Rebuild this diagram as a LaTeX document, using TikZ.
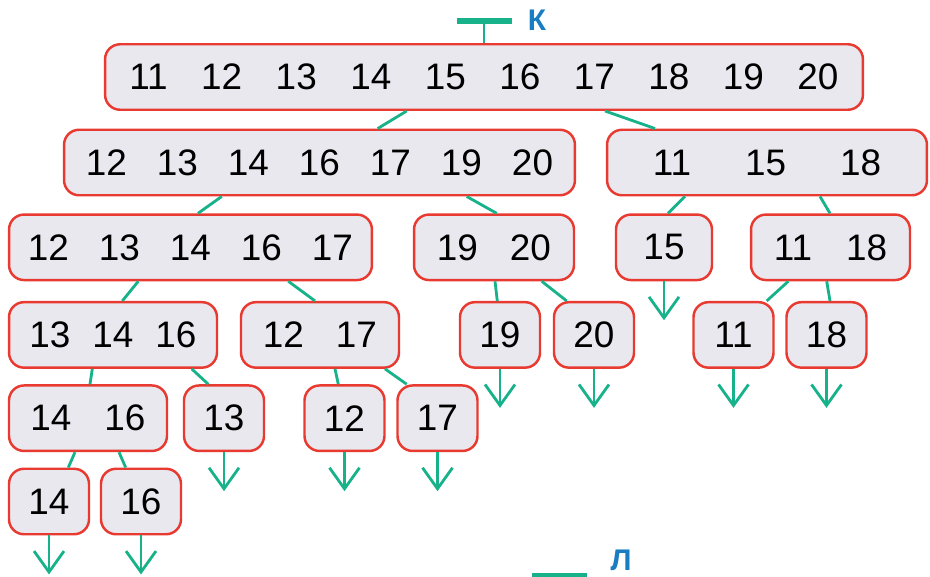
\documentclass[tikz,border=0pt]{standalone}
\usepackage{fontspec}
\setmainfont{Liberation Sans}
\usetikzlibrary{arrows.meta}

\definecolor{boxred}{HTML}{E83A30}
\definecolor{boxfill}{HTML}{E9E8EF}
\definecolor{linkgreen}{HTML}{17B28A}
\definecolor{keyblue}{HTML}{1A7DC2}

\newcommand{\numgap}[1][0.64cm]{\hspace{#1}}

\begin{document}
\begin{tikzpicture}[
    x=0.02cm, y=-0.02cm,
    setbox/.style={rectangle, rounded corners=0.3cm, draw=boxred, fill=boxfill, line width=1.4pt, minimum height=1.31cm, inner sep=0pt, font=\fontsize{21}{25}\selectfont},
    link/.style={draw=linkgreen, line width=1.6pt},
    leaf/.style={link, -{Straight Barb[length=0.42cm, width=0.6cm]}},
    keybar/.style={draw=linkgreen, line width=3.2pt},
    keylabel/.style={text=keyblue, font=\fontsize{17}{19}\selectfont\bfseries, inner sep=0pt}
]

\clip (0,0) rectangle (930,576);

% Ключи
\coordinate (k) at (484,21);
\draw[keybar] ([xshift=-0.54cm]k) -- ([xshift=0.56cm]k);
\node[keylabel] (klabel) at (537,20) {К};
\coordinate (l) at (560,575.5);
\draw[keybar] ([xshift=-0.56cm]l) -- ([xshift=0.54cm]l);
\node[keylabel] (llabel) at (621,560) {Л};

% Уровни
\node[setbox, minimum width=15.16cm] (all) at (484,77) {11\numgap[0.67cm]12\numgap[0.67cm]13\numgap[0.67cm]14\numgap[0.67cm]15\numgap[0.67cm]16\numgap[0.67cm]17\numgap[0.67cm]18\numgap[0.67cm]19\numgap[0.67cm]20};

\node[setbox, minimum width=10.22cm] (a) at (319.5,162.5) {12\numgap[0.6cm]13\numgap[0.6cm]14\numgap[0.6cm]16\numgap[0.6cm]17\numgap[0.6cm]19\numgap[0.6cm]20};
\node[setbox, minimum width=6.4cm] (b) at (767,162.5) {11\numgap[1.08cm]15\numgap[1.08cm]18};

\node[setbox, minimum width=7.26cm] (c) at (190.5,247.3) {12\numgap[0.6cm]13\numgap[0.6cm]14\numgap[0.6cm]16\numgap[0.6cm]17};
\node[setbox, minimum width=3.2cm] (d) at (494,247.3) {19\numgap 20};
\node[setbox, minimum width=1.92cm] (e) at (664,247.3) {15};
\node[setbox, minimum width=3.18cm] (f) at (830.5,247.3) {11\numgap[0.68cm]18};

\node[setbox, minimum width=4.16cm] (g) at (113,334.9) {13\numgap[0.44cm]14\numgap[0.44cm]16};
\node[setbox, minimum width=3.16cm] (h) at (320,334.9) {12\numgap 17};
\node[setbox, minimum width=1.6cm] (i) at (500,334.9) {19};
\node[setbox, minimum width=1.6cm] (j) at (594,334.9) {20};
\node[setbox, minimum width=1.6cm] (kk) at (733.5,334.9) {11};
\node[setbox, minimum width=1.6cm] (ll) at (826.5,334.9) {18};

\node[setbox, minimum width=3.16cm] (m) at (88,418.2) {14\numgap[0.66cm]16};
\node[setbox, minimum width=1.6cm] (n) at (224,418.2) {13};
\node[setbox, minimum width=1.6cm] (o) at (344.5,418.2) {12};
\node[setbox, minimum width=1.6cm] (p) at (437.5,418.2) {17};

\node[setbox, minimum width=1.6cm] (q) at (49,501.5) {14};
\node[setbox, minimum width=1.6cm] (r) at (141,501.5) {16};

% Связи
\draw[link] (k) -- (all.north);
\draw[link] (all.south -| 406.7,0) -- (a.north -| 377.7,0);
\draw[link] (all.south -| 605,0) -- (b.north -| 655,0);
\draw[link] (a.south -| 221.7,0) -- (c.north -| 198,0);
\draw[link] (a.south -| 466.7,0) -- (d.north -| 496.7,0);
\draw[link] (b.south -| 685,0) -- (e.north -| 668,0);
\draw[link] (b.south -| 820,0) -- (f.north -| 830,0);
\draw[link] (c.south -| 138.3,0) -- (g.north -| 122.3,0);
\draw[link] (c.south -| 288.3,0) -- (h.north -| 315,0);
\draw[link] (d.south -| 495,0) -- (i.north -| 497.3,0);
\draw[link] (d.south -| 541.7,0) -- (j.north -| 566.7,0);
\draw[link] (f.south -| 788.3,0) -- (kk.north -| 766.7,0);
\draw[link] (f.south -| 826.7,0) -- (ll.north -| 830,0);
\draw[link] (g.south -| 92.3,0) -- (m.north -| 90,0);
\draw[link] (g.south -| 191.7,0) -- (n.north -| 208.3,0);
\draw[link] (h.south -| 335,0) -- (o.north -| 338.3,0);
\draw[link] (h.south -| 385,0) -- (p.north -| 406.7,0);
\draw[link] (m.south -| 75,0) -- (q.north -| 68.3,0);
\draw[link] (m.south -| 119,0) -- (r.north -| 125.7,0);

% Листья
\foreach \n in {e,i,j,kk,ll,n,o,p,q,r}
  \draw[leaf] (\n.south) -- ++(0,39);

\end{tikzpicture}
\end{document}
